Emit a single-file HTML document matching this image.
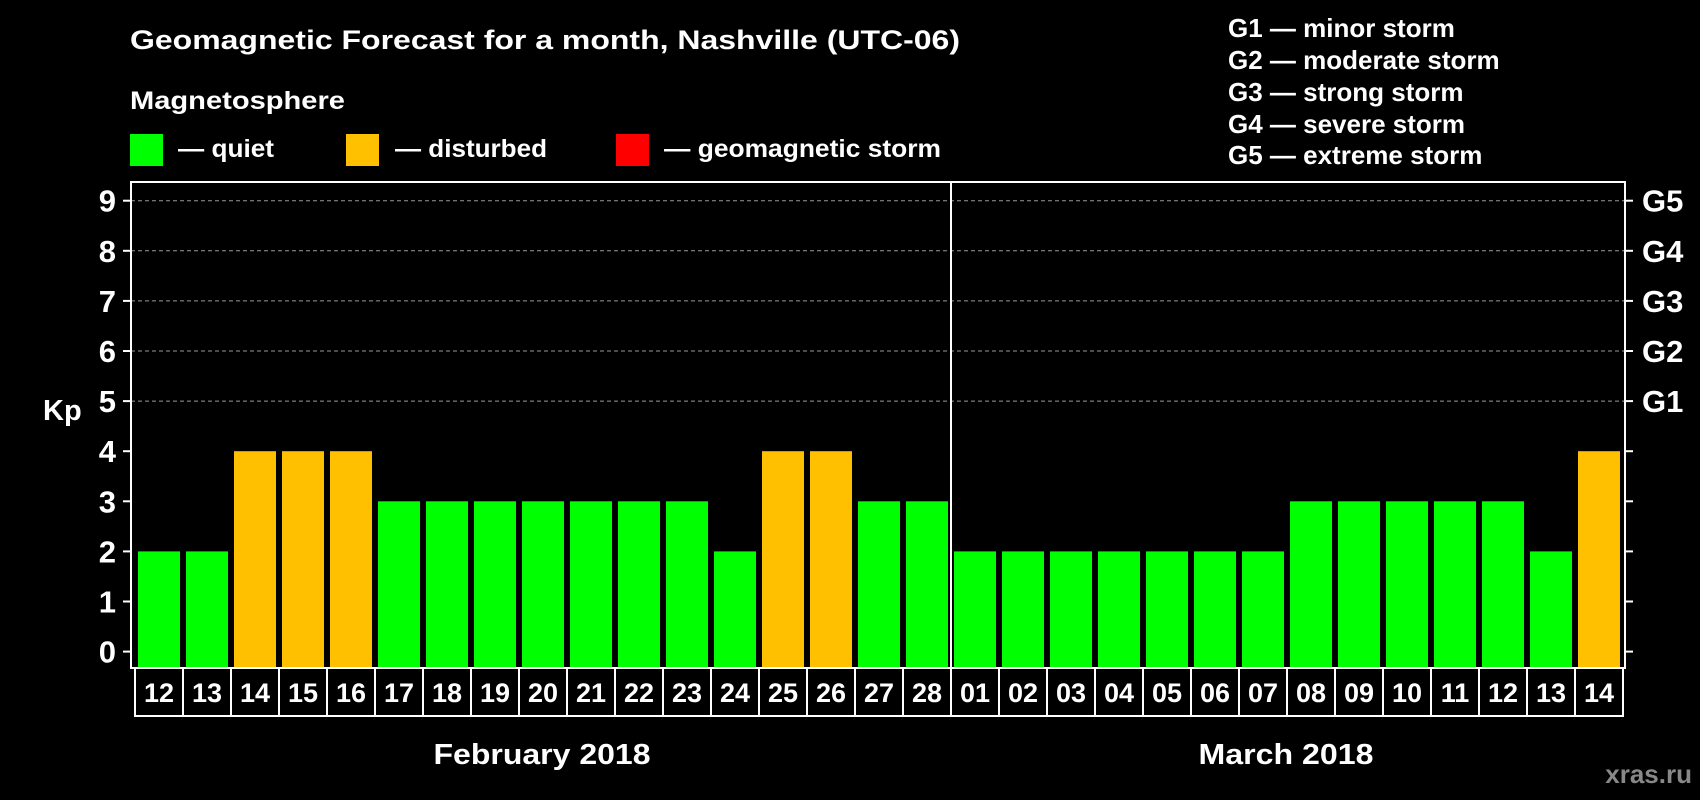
<!DOCTYPE html>
<html><head><meta charset="utf-8"><style>
html,body{margin:0;padding:0;background:#000;}
svg{display:block;font-family:"Liberation Sans",Arial,sans-serif;font-weight:bold;}
</style></head><body>
<svg id="chart" width="1700" height="800" viewBox="0 0 1700 800">
<rect width="1700" height="800" fill="#000"/>
<text x="130" y="49" fill="#fff" font-size="27" textLength="830" lengthAdjust="spacingAndGlyphs">Geomagnetic Forecast for a month, Nashville (UTC-06)</text>
<text x="130" y="109" fill="#fff" font-size="25" textLength="215" lengthAdjust="spacingAndGlyphs">Magnetosphere</text>
<g><rect x="130" y="134" width="33" height="32" fill="#00ff00"/><text x="178" y="157" fill="#fff" font-size="25" textLength="96" lengthAdjust="spacingAndGlyphs">— quiet</text></g>
<g><rect x="346" y="134" width="33" height="32" fill="#ffc000"/><text x="395" y="157" fill="#fff" font-size="25" textLength="152" lengthAdjust="spacingAndGlyphs">— disturbed</text></g>
<g><rect x="616" y="134" width="33" height="32" fill="#ff0000"/><text x="664" y="157" fill="#fff" font-size="25" textLength="277" lengthAdjust="spacingAndGlyphs">— geomagnetic storm</text></g>
<g fill="#fff" font-size="26">
<text x="1228" y="37">G1 — minor storm</text>
<text x="1228" y="69">G2 — moderate storm</text>
<text x="1228" y="101">G3 — strong storm</text>
<text x="1228" y="133">G4 — severe storm</text>
<text x="1228" y="164">G5 — extreme storm</text>
</g>
<text x="43" y="420" fill="#fff" font-size="29">Kp</text>
<g id="plot"></g>
<text x="542" y="764" fill="#fff" font-size="29" text-anchor="middle" textLength="217" lengthAdjust="spacingAndGlyphs">February 2018</text>
<text x="1286" y="764" fill="#fff" font-size="29" text-anchor="middle" textLength="175" lengthAdjust="spacingAndGlyphs">March 2018</text>
<text x="1692" y="783" fill="#888" font-size="26" text-anchor="end">xras.ru</text>
</svg>
<script>
const days = ["12","13","14","15","16","17","18","19","20","21","22","23","24","25","26","27","28","01","02","03","04","05","06","07","08","09","10","11","12","13","14"];
const kp = [2,2,4,4,4,3,3,3,3,3,3,3,2,4,4,3,3,2,2,2,2,2,2,2,3,3,3,3,3,2,4];
const yTicks = [0,1,2,3,4,5,6,7,8,9];
const gLabels = ["G1","G2","G3","G4","G5"];
const gLevels = [5,6,7,8,9];
const NS="http://www.w3.org/2000/svg";
const g=document.getElementById('plot');
const X0=131,X1=1625,TOP=182,BOT=668,Y0=651.6,UNIT=50.1,PITCH=48,BARX=138,BARW=42;
const y=v=>Y0-v*UNIT;
const x=i=>BARX+i*PITCH;
function mk(t,a){const e=document.createElementNS(NS,t);for(const k in a)e.setAttribute(k,a[k]);g.appendChild(e);return e;}
gLevels.forEach(v=>{
 const l=mk('line',{x1:X0,x2:X1,y1:y(v),y2:y(v),stroke:'#999','stroke-dasharray':'4 3','stroke-width':1});
 
 
});
kp.forEach((v,i)=>{
 const r=mk('rect',{x:x(i),y:y(v),width:BARW,height:BOT-y(v),fill:v>=5?'#ff0000':(v>=4?'#ffc000':'#00ff00')});
 
 
});
mk('rect',{x:X0,y:TOP,width:X1-X0,height:BOT-TOP,fill:'none',stroke:'#fff','stroke-width':2});
const dv=mk('line',{x1:x(17)-3,x2:x(17)-3,y1:TOP,y2:BOT,stroke:'#fff','stroke-width':2});


yTicks.forEach(v=>{
 mk('line',{x1:X0-8,x2:X0,y1:y(v),y2:y(v),stroke:'#fff','stroke-width':2});
 mk('line',{x1:X1,x2:X1+8,y1:y(v),y2:y(v),stroke:'#fff','stroke-width':2});
 const t=mk('text',{x:116,y:y(v)+11,fill:'#fff','font-size':31,'text-anchor':'end'});
 t.textContent=v;
 
 
});
gLabels.forEach((s,i)=>{
 const t=mk('text',{x:1642,y:y(gLevels[i])+11,fill:'#fff','font-size':31});
 t.textContent=s;
 
 
});
days.forEach((d,i)=>{
 mk('rect',{x:x(i)-3,y:BOT,width:PITCH,height:48,fill:'none',stroke:'#fff','stroke-width':2});
 const t=mk('text',{x:x(i)+BARW/2,y:BOT+34,fill:'#fff','font-size':27,'text-anchor':'middle'});
 t.textContent=d;
 
 
});
</script>
</body></html>
